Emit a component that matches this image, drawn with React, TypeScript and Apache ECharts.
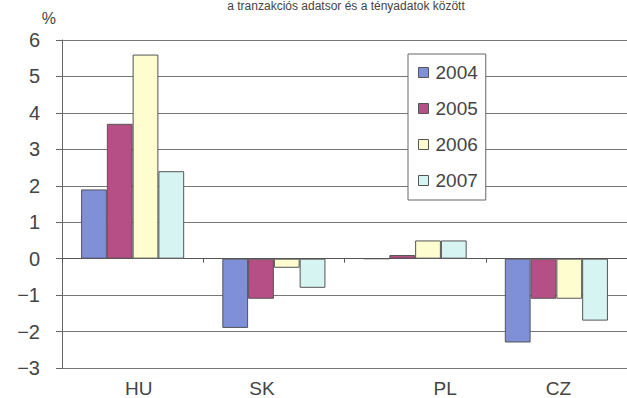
import React, { useEffect, useRef } from "react";
import * as echarts from "echarts";

const categories = ["HU", "SK", "PL", "CZ"];
const years = ["2004", "2005", "2006", "2007"];
const s2004 = [1.9, -1.9, 0, -2.3];
const s2005 = [3.7, -1.1, 0.1, -1.1];
const s2006 = [5.6, -0.25, 0.5, -1.1];
const s2007 = [2.4, -0.8, 0.5, -1.7];
const seriesValues = [s2004, s2005, s2006, s2007];
const colors = ["#7f8fd8", "#b64f85", "#fdfdcf", "#d6f4f2"];
const titleText = "a tranzakciós adatsor és a tényadatok között";

export default function App() {
  const ref = useRef<HTMLDivElement>(null);
  useEffect(() => {
    if (!ref.current) return;
    const chart = echarts.init(ref.current, null, { renderer: "svg" });
    const font = "'Liberation Sans', Arial, sans-serif";
    chart.setOption({
      animation: false,
      backgroundColor: "#ffffff",
      textStyle: { fontFamily: font },
      title: {
        text: titleText,
        left: 346,
        textAlign: "center",
        top: 0,
        padding: 0,
        textStyle: { fontSize: 12, fontWeight: "normal", color: "#444", fontFamily: font },
      },
      legend: {
        orient: "vertical",
        left: 408,
        top: 54,
        padding: [9, 8, 10, 10],
        itemGap: 17,
        itemWidth: 10,
        itemHeight: 10,
        backgroundColor: "#ffffff",
        borderColor: "#666",
        borderWidth: 1,
        icon: "rect",
        data: years,
        textStyle: { fontSize: 19, color: "#444", fontFamily: font, padding: [0, 0, 0, 2] },
        itemStyle: { borderColor: "#555", borderWidth: 1 },
      },
      grid: { left: 62, right: -10, top: 40, bottom: 30 },
      xAxis: {
        type: "category",
        data: categories,
        axisLine: { onZero: true, lineStyle: { color: "#555", width: 1 } },
        axisTick: { show: true, length: 4, lineStyle: { color: "#555" } },
        axisLabel: {
          interval: 0,
          color: "#444",
          fontSize: 19,
          margin: 11,
          formatter: (v: string) => `{${v}|${v}}`,
          rich: {
            HU: { fontSize: 19, color: "#444", padding: [0, 0, 0, 12], fontFamily: font },
            SK: { fontSize: 19, color: "#444", padding: [0, 24, 0, 0], fontFamily: font },
            PL: { fontSize: 19, color: "#444", padding: [0, 0, 0, 60], fontFamily: font },
            CZ: { fontSize: 19, color: "#444", padding: [0, 0, 0, 4], fontFamily: font },
          },
        },
      },
      yAxis: {
        type: "value",
        min: -3,
        max: 6,
        interval: 1,
        name: "%",
        nameLocation: "end",
        nameGap: 14,
        nameTextStyle: { fontSize: 16, color: "#444", align: "right", padding: [0, 6, 0, 0], fontFamily: font },
        axisLine: { show: true, lineStyle: { color: "#666" } },
        axisTick: { show: true, length: 6, lineStyle: { color: "#666" } },
        axisLabel: {
          color: "#444",
          fontSize: 20,
          margin: 22,
          formatter: (v: number) => (v < 0 ? "\u2212" + Math.abs(v) : String(v)),
        },
        splitLine: { show: true, lineStyle: { color: "#777", width: 1 } },
      },
      series: years.map((y, i) => ({
        name: y,
        type: "bar",
        data: seriesValues[i],
        barGap: "0%",
        barCategoryGap: "27%",
        itemStyle: { color: colors[i], borderColor: "#555", borderWidth: 1 },
      })),
    });
    return () => chart.dispose();
  }, []);
  return (
    <div
      ref={ref}
      style={{ position: "fixed", left: 0, top: 0, width: 627, height: 398 }}
    />
  );
}
